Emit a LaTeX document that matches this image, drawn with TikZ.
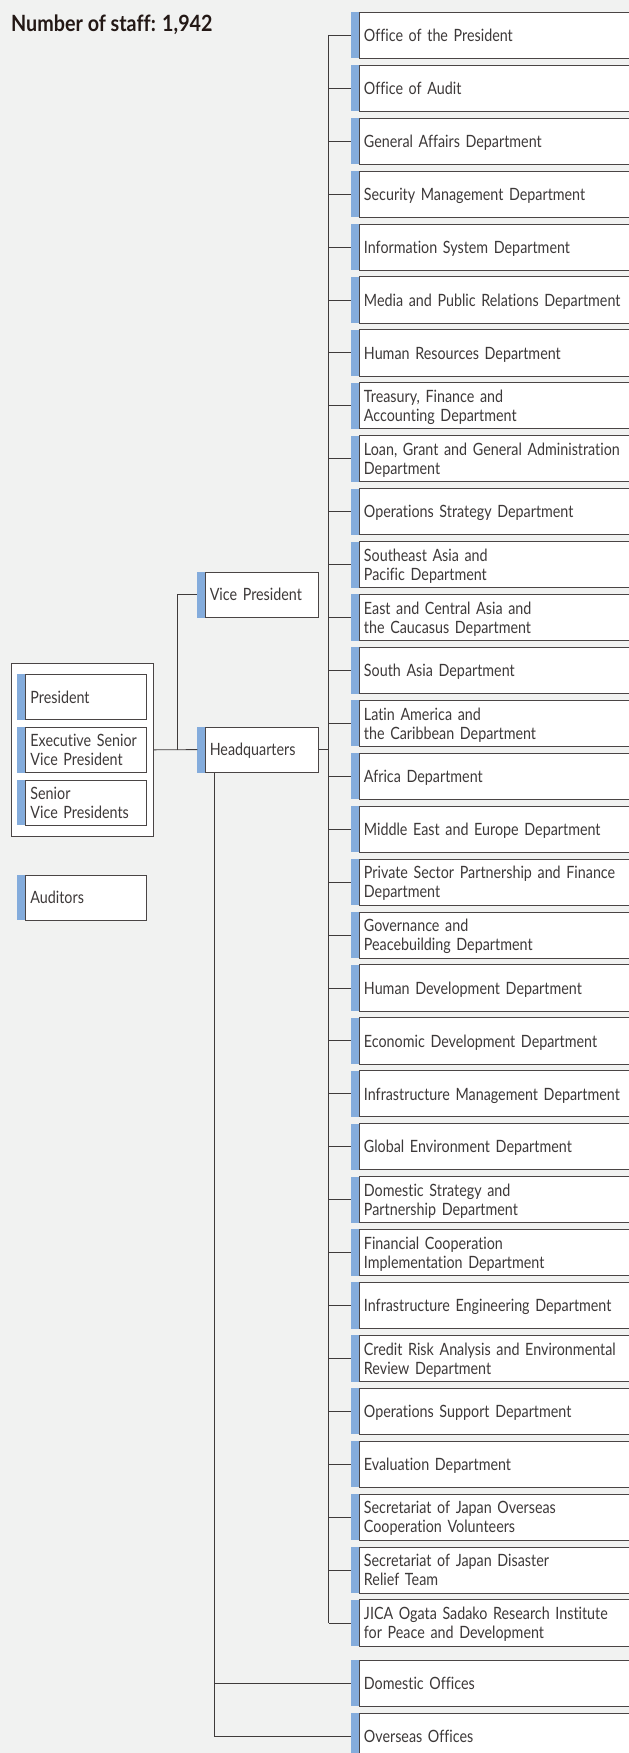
\documentclass[tikz,border=0pt]{standalone}
\usepackage{fontspec}
\setmainfont[FakeStretch=0.845,Ligatures=NoCommon]{Lato}
\newfontfamily\titlefam[FakeStretch=0.88,Ligatures=NoCommon]{Lato}
\definecolor{bg}{HTML}{F1F2F1}
\definecolor{barblue}{HTML}{84ACDC}
\definecolor{boxline}{HTML}{4A4545}
\definecolor{conncol}{HTML}{3F3B3B}
\definecolor{txt}{HTML}{3D3939}
\definecolor{titlecol}{HTML}{231815}
\newcommand\deptfont{\fontsize{17}{19}\selectfont}
\newcommand\titlefont{\titlefam\fontsize{22.5}{24}\selectfont\bfseries}
\tikzset{
  conn/.style={draw=conncol, line width=0.9pt},
  edge line/.style={draw=boxline, line width=0.9pt},
  basebox/.style={draw=boxline, line width=0.9pt, fill=white, inner ysep=0pt,
    align=left, font=\deptfont, text=txt, text height=12.5pt},
  dbox/.style={basebox, draw=none, minimum width=300bp, minimum height=45.3bp,
    inner xsep=4.5bp, text width=291bp},
  lbox/.style={basebox, minimum width=121bp, minimum height=45bp,
    inner xsep=5bp, text width=111bp},
  vbox/.style={basebox, minimum width=113bp, minimum height=45bp,
    inner xsep=4.6bp, text width=103.8bp},
  oneline/.style={text depth=0pt},
  twoline/.style={text depth=19pt},
}
% open box: top, left and bottom edges only (it runs off the right side)
\newcommand\openedges[1]{%
  \draw[edge line] (#1.north east) -- (#1.north west) -- (#1.south west) -- (#1.south east);
  \fill[barblue] (#1.north west) rectangle ([xshift=-8bp]#1.south west);
}
\newcommand\dept[4]{%
  \node[dbox,#3,anchor=north west] (#1) at (359,{12.3+(#2-1)*52.92}) {#4};
  \openedges{#1}
  \draw[conn] (#1.west -| trunkx) -- ([xshift=-8bp]#1.west);
}
\newcommand\lbar[2]{%
  \fill[barblue] (#1.north west) rectangle ([xshift=-#2]#1.south west);
}
\begin{document}
\begin{tikzpicture}[x=1bp,y=-1bp]
\useasboundingbox (0,0) rectangle (629,1753);
\fill[bg] (-5,-5) rectangle (640,1760);
\clip (0,0) rectangle (629,1753);

\coordinate (trunkx) at (328.5,0);

\node[anchor=base west, inner sep=0pt, font=\titlefont, text=titlecol] (title) at (11,31) {Number of staff: 1,942};

% trunk
\draw[conn] (trunkx |- 0,{12.3+22.65}) -- (trunkx |- 0,{12.3+30*52.92+22.65});

\dept{d1}{1}{oneline}{Office of the President}
\dept{d2}{2}{oneline}{Office of Audit}
\dept{d3}{3}{oneline}{General Affairs Department}
\dept{d4}{4}{oneline}{Security Management Department}
\dept{d5}{5}{oneline}{Information System Department}
\dept{d6}{6}{oneline}{Media and Public Relations Department}
\dept{d7}{7}{oneline}{Human Resources Department}
\dept{d8}{8}{twoline}{Treasury, Finance and\\Accounting Department}
\dept{d9}{9}{twoline}{Loan, Grant and General Administration\\Department}
\dept{d10}{10}{oneline}{Operations Strategy Department}
\dept{d11}{11}{twoline}{Southeast Asia and\\Pacific Department}
\dept{d12}{12}{twoline}{East and Central Asia and\\the Caucasus Department}
\dept{d13}{13}{oneline}{South Asia Department}
\dept{d14}{14}{twoline}{Latin America and\\the Caribbean Department}
\dept{d15}{15}{oneline}{Africa Department}
\dept{d16}{16}{oneline}{Middle East and Europe Department}
\dept{d17}{17}{twoline}{Private Sector Partnership and Finance\\Department}
\dept{d18}{18}{twoline}{Governance and\\Peacebuilding Department}
\dept{d19}{19}{oneline}{Human Development Department}
\dept{d20}{20}{oneline}{Economic Development Department}
\dept{d21}{21}{oneline}{Infrastructure Management Department}
\dept{d22}{22}{oneline}{Global Environment Department}
\dept{d23}{23}{twoline}{Domestic Strategy and\\Partnership Department}
\dept{d24}{24}{twoline}{Financial Cooperation\\Implementation Department}
\dept{d25}{25}{oneline}{Infrastructure Engineering Department}
\dept{d26}{26}{twoline}{Credit Risk Analysis and Environmental\\Review Department}
\dept{d27}{27}{oneline}{Operations Support Department}
\dept{d28}{28}{oneline}{Evaluation Department}
\dept{d29}{29}{twoline}{Secretariat of Japan Overseas\\Cooperation Volunteers}
\dept{d30}{30}{twoline}{Secretariat of Japan Disaster\\Relief Team}
\dept{d31}{31}{twoline}{JICA Ogata Sadako Research Institute\\for Peace and Development}

% offices
\node[dbox,oneline,anchor=north west] (dom) at (359,1660) {Domestic Offices};
\openedges{dom}
\node[dbox,oneline,anchor=north west] (ovs) at (359,1713.3) {Overseas Offices};
\openedges{ovs}

% top management group
\node[draw=boxline, line width=0.9pt, fill=white, minimum width=142.6bp, minimum height=173.3bp, inner sep=0pt, anchor=north west] (grp) at (10.7,662.7) {};
\node[lbox,oneline,anchor=north west] (pres) at (25,674) {President};
\lbar{pres}{7.7bp}
\node[lbox,twoline,anchor=north west] (esvp) at (25,726.7) {Executive Senior\\Vice President};
\lbar{esvp}{7.7bp}
\node[lbox,twoline,anchor=north west] (svp) at (25,779.5) {Senior\\Vice Presidents};
\lbar{svp}{7.7bp}
\node[lbox,oneline,anchor=north west] (aud) at (25,874.5) {Auditors};
\lbar{aud}{7.7bp}

% vice president / headquarters
\node[vbox,oneline,anchor=north west] (vp) at (204.7,571.7) {Vice President};
\lbar{vp}{7.4bp}
\node[vbox,oneline,anchor=north west] (hq) at (204.7,726.7) {Headquarters};
\lbar{hq}{7.4bp}

\coordinate (jx) at (177,0);
\coordinate (hqx) at (214.3,0);
\draw[conn] (grp.east) -- ([xshift=-7.4bp]hq.west);
\draw[conn] (jx |- hq.west) |- ([xshift=-7.4bp]vp.west);
\draw[conn] (hq.east) -- (hq.east -| trunkx);
\draw[conn] (hqx |- hq.south) |- ([xshift=-8bp]ovs.west);
\draw[conn] (hqx |- dom.west) -- ([xshift=-8bp]dom.west);
\end{tikzpicture}
\end{document}
